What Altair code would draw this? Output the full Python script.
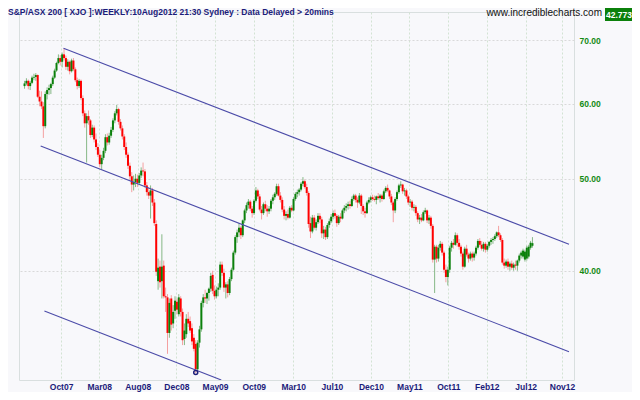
import altair as alt
import pandas as pd
import numpy as np

# ---------------- data (index units = XJO / 100), weekly bars -----------------
first_week = "2007-06-08"

open_ = [
62.6, 63.0, 63.4, 62.6, 63.1, 63.9, 64.0, 64.3, 61.0, 60.3,
59.6, 56.8, 61.4, 62.0, 62.3, 62.9, 63.9, 65.0, 66.2, 67.0,
66.4, 67.6, 67.0, 65.6, 66.4, 64.9, 66.6, 65.2, 63.5, 62.6,
63.4, 60.8, 58.6, 57.2, 58.2, 57.6, 55.6, 56.6, 55.0, 54.0,
53.0, 51.8, 52.6, 53.5, 55.3, 54.6, 55.5, 56.3, 57.6, 58.6,
59.2, 57.4, 56.5, 55.4, 54.0, 53.0, 51.6, 50.3, 49.3, 49.6,
50.0, 49.5, 50.4, 51.0, 50.9, 49.2, 48.4, 48.0, 48.6, 47.2,
44.8, 39.0, 40.4, 39.0, 40.5, 37.6, 37.5, 34.4, 37.4, 35.2,
36.3, 37.1, 36.0, 37.4, 36.2, 33.9, 34.3, 35.6, 35.4, 34.8,
34.0, 33.5, 31.5, 33.6, 34.7, 37.0, 37.5, 37.4, 37.9, 38.3,
39.6, 38.1, 37.6, 38.2, 38.4, 40.6, 39.8, 38.4, 38.7, 37.9,
39.2, 40.1, 41.8, 43.4, 43.9, 44.4, 43.6, 45.2, 46.3, 46.9,
47.3, 46.5, 46.0, 47.4, 48.6, 47.9, 46.4, 46.0, 47.0, 46.5,
46.2, 46.5, 47.4, 47.8, 48.2, 49.1, 48.0, 47.5, 46.4, 45.7,
45.9, 45.5, 46.6, 46.3, 47.6, 48.2, 48.4, 48.7, 49.4, 49.7,
49.0, 48.3, 44.9, 44.0, 45.5, 44.4, 45.0, 45.7, 45.3, 43.8,
44.2, 43.4, 44.7, 45.1, 45.6, 46.0, 45.7, 44.9, 45.6, 45.4,
46.3, 46.6, 46.8, 47.0, 46.8, 47.6, 48.0, 47.5, 47.2, 48.0,
46.8, 46.2, 46.0, 47.2, 47.5, 47.8, 47.6, 47.5, 47.9, 47.7,
48.0, 47.6, 48.5, 48.9, 48.6, 47.9, 47.2, 46.3, 47.6, 48.4,
49.2, 49.3, 48.5, 48.6, 47.9, 47.2, 47.3, 46.6, 46.7, 46.0,
45.3, 45.5, 45.2, 46.1, 46.3, 45.2, 45.5, 44.6, 41.1, 42.4,
41.2, 42.3, 42.7, 41.8, 40.1, 39.4, 40.1, 42.3, 42.8, 42.6,
43.6, 42.8, 42.4, 41.7, 40.4, 42.2, 41.6, 41.2, 41.7, 41.3,
41.7, 42.3, 43.0, 42.6, 42.2, 42.7, 42.1, 42.5, 42.9, 43.1,
43.2, 43.5, 43.9, 43.6, 43.1, 40.8, 40.5, 40.9, 40.4, 40.7,
40.3, 40.6, 40.5, 41.0, 41.5, 41.4, 41.1, 41.2, 41.4, 42.3,
42.5]

high = [
63.4, 63.8, 63.6, 63.4, 64.2, 64.5, 64.6, 64.4, 61.9, 61.8,
60.2, 61.8, 62.4, 62.8, 63.1, 64.2, 65.3, 66.4, 67.6, 67.5,
67.9, 68.6, 67.4, 66.8, 66.6, 66.9, 67.0, 65.5, 63.9, 63.7,
63.6, 61.2, 59.0, 58.6, 59.0, 57.8, 57.0, 56.9, 55.8, 54.5,
53.6, 53.0, 53.9, 55.7, 55.8, 55.9, 56.7, 57.9, 58.9, 59.8,
59.4, 57.8, 56.9, 55.7, 54.6, 53.3, 52.0, 50.8, 50.4, 50.6,
50.5, 50.7, 51.4, 52.0, 51.2, 49.6, 49.0, 49.2, 48.9, 47.6,
45.2, 41.2, 41.0, 43.7, 41.0, 38.4, 37.8, 37.4, 37.7, 36.8,
37.6, 37.4, 37.8, 37.6, 36.5, 35.2, 36.0, 36.2, 35.8, 35.2,
34.3, 33.8, 33.8, 35.0, 37.2, 37.8, 38.2, 38.0, 38.4, 39.8,
40.0, 38.6, 38.5, 38.8, 40.9, 40.9, 40.2, 38.9, 39.0, 39.4,
40.3, 42.0, 43.6, 44.2, 44.9, 44.6, 45.3, 46.5, 47.2, 47.6,
47.5, 46.8, 47.6, 49.0, 48.8, 48.2, 46.8, 47.2, 47.4, 46.9,
46.8, 47.6, 48.1, 48.4, 49.4, 49.4, 48.4, 47.8, 46.8, 46.2,
46.4, 46.8, 46.9, 47.8, 48.4, 48.7, 48.9, 49.6, 50.2, 49.9,
49.4, 48.5, 45.6, 45.8, 45.8, 45.3, 46.0, 46.0, 45.6, 44.6,
44.5, 44.9, 45.4, 45.9, 46.3, 46.4, 45.9, 45.8, 46.0, 46.5,
46.9, 47.1, 47.3, 47.4, 47.9, 48.2, 48.2, 47.8, 48.3, 48.2,
47.0, 46.6, 47.4, 47.8, 48.0, 48.1, 48.0, 48.0, 48.3, 48.2,
48.2, 48.7, 49.1, 49.3, 48.7, 48.2, 47.4, 47.8, 48.6, 49.4,
49.7, 49.4, 48.9, 48.8, 48.1, 47.6, 47.5, 47.0, 46.9, 46.2,
45.8, 45.9, 46.3, 46.6, 46.4, 45.8, 45.7, 44.8, 42.6, 42.6,
42.6, 43.0, 42.9, 42.0, 40.6, 40.4, 42.5, 43.0, 43.2, 43.9,
43.8, 43.2, 42.6, 41.9, 42.4, 42.6, 41.8, 41.9, 41.9, 41.9,
42.5, 43.2, 43.3, 43.0, 42.9, 42.9, 42.7, 43.0, 43.3, 43.4,
43.7, 44.0, 44.6, 43.8, 43.3, 41.2, 41.1, 41.2, 40.9, 41.0,
40.8, 41.0, 41.1, 41.7, 42.0, 42.2, 42.1, 42.5, 42.6, 43.0,
43.4]

low = [
62.2, 62.7, 62.1, 62.0, 62.9, 63.5, 63.4, 60.8, 59.6, 59.2,
55.2, 56.5, 60.6, 61.3, 61.4, 62.6, 63.7, 64.8, 66.0, 65.8,
65.5, 66.6, 65.1, 65.0, 64.4, 64.7, 64.9, 63.2, 62.1, 62.3,
60.5, 58.2, 56.6, 52.0, 57.0, 55.2, 55.3, 54.6, 53.6, 52.7,
51.4, 51.1, 52.3, 53.2, 54.2, 54.3, 55.2, 56.0, 57.2, 58.3,
57.0, 56.2, 55.0, 53.6, 52.6, 51.2, 49.9, 48.4, 48.6, 49.0,
49.0, 49.3, 50.1, 50.3, 48.9, 48.0, 47.6, 45.4, 46.8, 44.6,
39.5, 38.2, 38.4, 37.4, 37.4, 36.2, 32.7, 34.0, 34.6, 34.8,
35.6, 36.0, 35.8, 35.8, 33.4, 33.4, 34.0, 34.9, 34.4, 33.4,
32.9, 31.2, 31.3, 33.2, 34.5, 36.6, 37.0, 36.9, 37.2, 38.0,
37.8, 37.3, 37.4, 37.6, 38.2, 39.5, 38.0, 37.4, 37.5, 37.7,
39.0, 40.0, 41.6, 42.8, 43.4, 43.2, 43.4, 44.9, 46.0, 46.5,
46.2, 45.5, 45.8, 47.2, 47.6, 46.2, 45.3, 45.8, 46.2, 45.6,
45.9, 46.2, 47.0, 47.5, 48.0, 47.9, 47.2, 46.1, 45.3, 45.2,
45.3, 45.4, 46.1, 46.2, 47.4, 47.8, 48.0, 48.5, 49.1, 48.8,
48.0, 44.4, 43.3, 43.8, 44.2, 44.1, 44.8, 44.9, 43.3, 43.2,
43.1, 43.2, 44.4, 44.9, 45.3, 45.4, 44.5, 44.7, 45.0, 45.3,
46.0, 46.2, 46.4, 46.5, 46.7, 47.4, 47.2, 46.6, 47.0, 45.9,
45.8, 45.5, 45.9, 47.0, 47.2, 47.4, 47.3, 47.0, 47.5, 47.2,
47.3, 47.5, 48.3, 48.4, 47.6, 46.9, 45.0, 46.0, 47.4, 48.2,
48.9, 48.2, 48.0, 47.6, 46.9, 46.7, 46.3, 46.2, 45.7, 45.0,
44.8, 45.0, 45.1, 45.9, 44.9, 44.8, 44.3, 40.8, 37.9, 40.8,
40.9, 42.0, 41.5, 39.8, 38.9, 38.6, 39.8, 41.9, 42.2, 42.5,
42.4, 42.1, 41.4, 40.1, 40.3, 41.4, 40.8, 41.0, 40.9, 41.0,
41.5, 42.1, 42.4, 42.0, 41.9, 41.8, 41.9, 42.3, 42.6, 42.7,
43.0, 43.3, 43.4, 42.9, 40.6, 40.2, 40.3, 40.1, 40.0, 40.1,
40.0, 40.1, 40.0, 40.8, 41.2, 41.2, 40.9, 41.0, 41.2, 42.1,
42.3]

close = [
63.0, 63.4, 62.6, 63.1, 63.9, 64.0, 64.3, 61.0, 60.3, 59.6,
56.8, 61.4, 62.0, 62.3, 62.9, 63.9, 65.0, 66.2, 67.0, 66.4,
67.6, 67.0, 65.6, 66.4, 64.9, 66.6, 65.2, 63.5, 62.6, 63.4,
60.8, 58.6, 57.2, 58.2, 57.6, 55.6, 56.6, 55.0, 54.0, 53.0,
51.8, 52.6, 53.5, 55.3, 54.6, 55.5, 56.3, 57.6, 58.6, 59.2,
57.4, 56.5, 55.4, 54.0, 53.0, 51.6, 50.3, 49.3, 49.6, 50.0,
49.5, 50.4, 51.0, 50.9, 49.2, 48.4, 48.0, 48.6, 47.2, 44.9,
39.9, 40.3, 38.9, 40.4, 37.6, 37.5, 34.4, 37.0, 35.1, 36.2,
37.2, 36.4, 37.5, 36.2, 33.8, 34.6, 35.6, 35.2, 34.6, 33.7,
33.1, 31.5, 33.6, 34.7, 37.0, 37.5, 37.4, 37.9, 38.3, 39.5,
38.1, 37.6, 38.2, 38.4, 40.6, 39.8, 38.4, 38.7, 37.9, 39.2,
40.1, 41.8, 43.4, 43.9, 44.4, 43.6, 45.2, 46.3, 46.9, 47.3,
46.5, 46.0, 47.4, 48.6, 47.9, 46.4, 46.0, 47.0, 46.5, 46.2,
46.5, 47.4, 47.8, 48.2, 49.1, 48.0, 47.5, 46.4, 45.7, 45.9,
45.5, 46.6, 46.3, 47.6, 48.2, 48.4, 48.7, 49.4, 49.7, 49.0,
48.3, 44.8, 44.0, 45.5, 44.4, 45.0, 45.7, 45.3, 43.8, 44.2,
43.4, 44.7, 45.1, 45.6, 46.0, 45.7, 44.9, 45.6, 45.4, 46.3,
46.6, 46.8, 47.0, 46.8, 47.6, 48.0, 47.5, 47.2, 48.0, 46.8,
46.2, 46.0, 47.2, 47.5, 47.8, 47.6, 47.5, 47.9, 47.7, 48.0,
47.6, 48.5, 48.9, 48.6, 47.9, 47.2, 46.3, 47.6, 48.4, 49.2,
49.3, 48.5, 48.6, 47.9, 47.2, 47.3, 46.6, 46.7, 46.0, 45.3,
45.5, 45.2, 46.1, 46.3, 45.2, 45.5, 44.6, 41.1, 42.4, 41.2,
42.3, 42.7, 41.8, 40.1, 39.4, 40.1, 42.3, 42.8, 42.6, 43.6,
42.8, 42.4, 41.7, 40.4, 42.2, 41.6, 41.2, 41.7, 41.3, 41.7,
42.3, 43.0, 42.6, 42.2, 42.7, 42.1, 42.5, 42.9, 43.1, 43.2,
43.5, 43.9, 43.6, 43.1, 40.8, 40.5, 40.9, 40.4, 40.7, 40.3,
40.6, 40.5, 41.0, 41.5, 41.8, 42.0, 41.9, 42.3, 42.4, 42.8,
42.77]

# trend channel lines (endpoints)
line_names = ["upper", "upper", "middle", "middle", "lower", "lower"]
line_dates = ["2007-10-31", "2012-12-24", "2007-08-07", "2012-12-24",
              "2007-08-21", "2009-06-09"]
line_values = [68.6, 42.65, 54.13, 32.87, 36.28, 30.69]

pivot_dates = ["2009-03-06"]
pivot_values = [31.25]

tick_dates = ["2007-10-22", "2008-03-12", "2008-08-02", "2008-12-24",
              "2009-05-17", "2009-10-08", "2010-03-04", "2010-07-26",
              "2010-12-18", "2011-05-10", "2011-10-02", "2012-02-22",
              "2012-07-16", "2012-11-28"]
y_ticks = [40, 50, 60, 70]
x_domain = ["2007-06-06", "2012-12-24"]
y_domain = [30.69, 74.92]

title_text = "S&P/ASX 200 [ XJO ]:WEEKLY:10Aug2012 21:30 Sydney : Data Delayed > 20mins"
site_text = "www.incrediblecharts.com"
last_price = "42.773"

# ---------------- build tables -----------------
n = len(close)
assert len(open_) == n and len(high) == n and len(low) == n
dates = pd.date_range(first_week, periods=n, freq="7D").strftime("%Y-%m-%d")
df = pd.DataFrame({"date": dates, "open": open_, "high": high,
                   "low": low, "close": close})
df["dir"] = np.where(df["close"] >= df["open"], "up", "down")

lines_df = pd.DataFrame({"line": line_names, "date": line_dates, "value": line_values})
pivot_df = pd.DataFrame({"date": pivot_dates, "value": pivot_values})


def ms(s):
    return int(pd.Timestamp(s, tz="UTC").timestamp() * 1000)


FONT = "Liberation Sans"
x_axis = alt.Axis(values=[ms(d) for d in tick_dates], format="%b%y", title=None,
                  grid=True, gridColor="#d3e3d3", gridDash=[2, 2], domain=False,
                  ticks=False, labelColor="#1b1b7a", labelFont=FONT,
                  labelFontWeight="bold", labelFontSize=8.5, labelPadding=2)
y_axis = alt.Axis(orient="right", values=y_ticks, format=".2f", title=None,
                  grid=True, gridColor="#d9d9d9", gridDash=[2, 2], domain=False,
                  ticks=False, labelColor="#138a13", labelFont=FONT,
                  labelFontWeight="bold", labelFontSize=8.5, labelPadding=5)
x_scale = alt.Scale(type="utc", domain=[ms(d) for d in x_domain])
y_scale = alt.Scale(type="log", domain=y_domain, nice=False, zero=False)


def X():
    return alt.X("date:T", scale=x_scale, axis=x_axis)


def Y(field):
    return alt.Y(field, scale=y_scale, axis=y_axis)


base = alt.Chart(df)
wicks = base.mark_rule(strokeWidth=1, clip=True).encode(
    x=X(), y=Y("low:Q"), y2="high:Q",
    color=alt.Color("dir:N", legend=None,
                    scale=alt.Scale(domain=["up", "down"], range=["#86b886", "#f4a0a0"])))
bodies = base.mark_bar(size=2, clip=True).encode(
    x=X(), y=Y("open:Q"), y2="close:Q",
    fill=alt.Fill("dir:N", legend=None,
                  scale=alt.Scale(domain=["up", "down"], range=["#0b800b", "#ff0000"])))

trend = alt.Chart(lines_df).mark_line(color="#4b4ba8", strokeWidth=1.1, clip=True).encode(
    x=X(), y=Y("value:Q"), detail="line:N")

pivot = alt.Chart(pivot_df).mark_point(shape="circle", filled=False, size=16,
                                       strokeWidth=1.5, color="#1f1f7a", opacity=1).encode(
    x=X(), y=Y("value:Q"))

title_mark = alt.Chart(pd.DataFrame({"t": [title_text]})).mark_text(
    align="left", baseline="top", font=FONT, fontSize=8.5, fontWeight="bold",
    color="#1b1b7a").encode(x=alt.value(-11), y=alt.value(-4), text="t:N")

site_mark = alt.Chart(pd.DataFrame({"t": [site_text]})).mark_text(
    align="right", baseline="top", font=FONT, fontSize=10, color="#111111").encode(
    x=alt.value(583), y=alt.value(-4), text="t:N")

box_mark = alt.Chart(pd.DataFrame({"t": [last_price]})).mark_rect(color="#0b800b").encode(
    x=alt.value(586), x2=alt.value(613), y=alt.value(-4), y2=alt.value(9))

price_mark = alt.Chart(pd.DataFrame({"t": [last_price]})).mark_text(
    align="left", baseline="middle", font=FONT, fontSize=8.5, fontWeight="bold",
    color="#ffffff").encode(x=alt.value(587), y=alt.value(2.5), text="t:N")

chart = alt.layer(wicks, bodies, trend, pivot, title_mark, site_mark, box_mark, price_mark).properties(
    width=555, height=368, background="#f8f8fb",
    padding={"left": 11, "top": 4, "right": 58, "bottom": 12},
    autosize=alt.AutoSizeParams(type="none"),
).configure_view(stroke="#d9dfdf", strokeWidth=1)

chart.save("out.html", embed_options={"renderer": "svg", "actions": False})
